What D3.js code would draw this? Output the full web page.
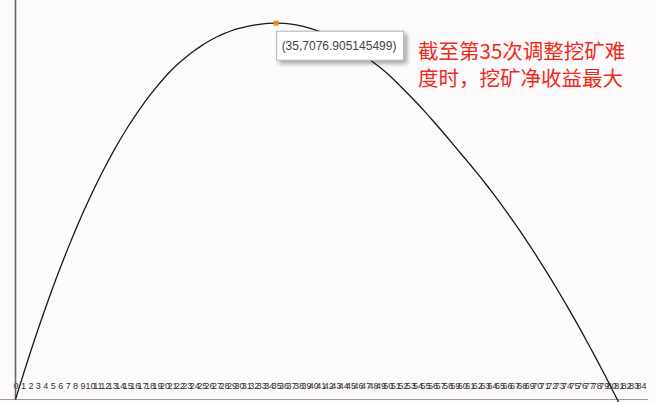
<!DOCTYPE html>
<html>
<head>
<meta charset="utf-8">
<script src="https://cdn.jsdelivr.net/npm/d3@7"></script>
<style>
  html, body { margin: 0; padding: 0; background: #fcfafa; overflow: hidden; }
  svg { display: block; }
</style>
</head>
<body>
<svg width="655" height="402"></svg>
<script>
// difficulty adjustment rounds and the net mining profit after each one
const rounds = d3.range(0, 82);
const profit = [
  0, 452, 888, 1308, 1712, 2100, 2472, 2828, 3168, 3492,
  3800, 4092, 4368, 4629, 4875, 5106, 5322, 5524, 5713, 5889,
  6052, 6202, 6332, 6451, 6559, 6656, 6742, 6817, 6882, 6935,
  6979, 7014, 7041, 7060, 7072, 7076.905145499, 7072, 7058, 7035, 7003,
  6962, 6913, 6856, 6791, 6718, 6637, 6548, 6452, 6349, 6239,
  6122, 5990, 5850, 5707, 5561, 5409, 5252, 5091, 4927, 4761,
  4594, 4426, 4256, 4081, 3900, 3713, 3520, 3322, 3118, 2908,
  2693, 2472, 2245, 2013, 1775, 1531, 1281, 1026, 765, 498,
  226, -52
];
// x axis labels
const xTicks = d3.range(0, 85);
// the highlighted point and the note beside it
const peakRound = 35;
const note = ["截至第35次调整挖矿难", "度时，挖矿净收益最大"];

const svg = d3.select("svg");

const x = d3.scaleLinear().domain([0, 84]).range([15.5, 641]);
const y = d3.scaleLinear().domain([0, d3.max(profit)]).range([399.5, 23.2]);

// drop shadow for the tooltip box
const defs = svg.append("defs");
const f = defs.append("filter").attr("id", "shadow")
  .attr("x", "-10%").attr("y", "-20%").attr("width", "130%").attr("height", "160%");
f.append("feDropShadow")
  .attr("dx", 3).attr("dy", 3).attr("stdDeviation", 2)
  .attr("flood-color", "#000").attr("flood-opacity", 0.35);

// x axis labels, no tick marks
const xAxis = d3.axisBottom(x).tickValues(xTicks).tickSize(0).tickFormat(d3.format("d"));
const gx = svg.append("g").attr("transform", "translate(0,389.3)").call(xAxis);
gx.select(".domain").remove();
gx.selectAll("text")
  .attr("y", 0).attr("dy", 0)
  .attr("fill", "#333")
  .style("font-family", "'Liberation Sans', Arial, sans-serif")
  .style("font-size", "9px");

// axis lines
svg.append("line")
  .attr("x1", 0).attr("x2", 648)
  .attr("y1", y(0)).attr("y2", y(0))
  .attr("stroke", "#999").attr("stroke-width", 1);
svg.append("line")
  .attr("x1", x(0)).attr("x2", x(0))
  .attr("y1", 0).attr("y2", y(0))
  .attr("stroke", "#666").attr("stroke-width", 1.6);

// profit curve
const line = d3.line()
  .x((d, i) => x(rounds[i]))
  .y(d => y(d))
  .curve(d3.curveMonotoneX);

svg.append("path")
  .datum(profit)
  .attr("d", line)
  .attr("fill", "none")
  .attr("stroke", "#1a1a1a")
  .attr("stroke-width", 1.3);

// highlighted maximum
const px = x(peakRound), py = y(profit[peakRound]);
svg.append("rect")
  .attr("x", px - 2.5).attr("y", py - 2.5)
  .attr("width", 5).attr("height", 5)
  .attr("fill", "#f28a10");

const tip = svg.append("g").attr("transform", `translate(${px + 0.5},${py + 8})`);
tip.append("rect")
  .attr("width", 127).attr("height", 29)
  .attr("fill", "#fff").attr("stroke", "#b4b4b4").attr("stroke-width", 1)
  .attr("filter", "url(#shadow)");
tip.append("text")
  .attr("x", 5).attr("y", 19)
  .attr("fill", "#444")
  .style("font-family", "'Liberation Sans', Arial, sans-serif")
  .style("font-size", "12px")
  .text(`(${peakRound},${profit[peakRound]})`);

// red note
svg.append("g").selectAll("text")
  .data(note)
  .join("text")
  .attr("x", 418)
  .attr("y", (d, i) => 59 + i * 27)
  .attr("fill", "#ee2a1c")
  .style("font-family", "'Noto Sans CJK SC', sans-serif")
  .style("font-size", "20.5px")
  .text(d => d);
</script>
</body>
</html>
